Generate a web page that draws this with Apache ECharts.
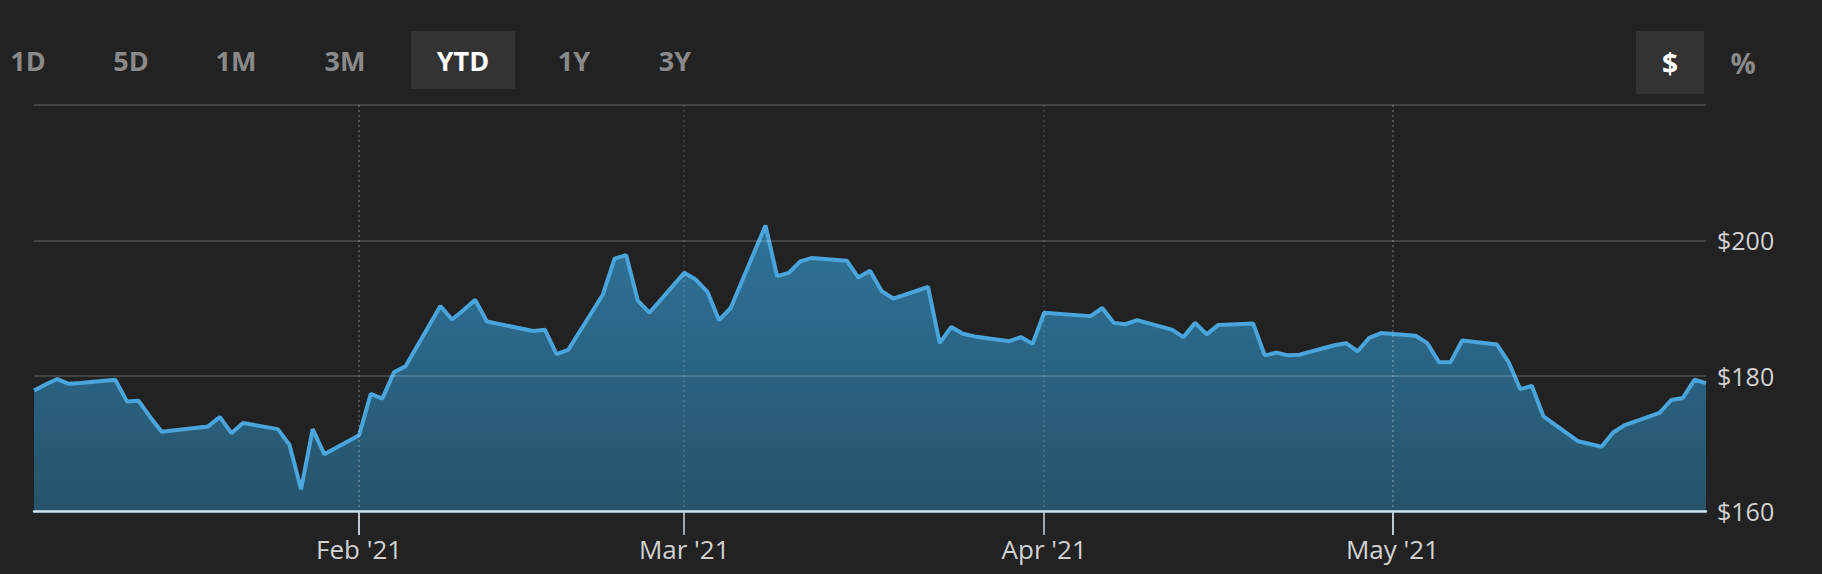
<!DOCTYPE html>
<html>
<head>
<meta charset="utf-8">
<script src="https://cdn.jsdelivr.net/npm/echarts@6/dist/echarts.min.js"></script>
<style>
  html, body { margin: 0; padding: 0; background: #222222; }
  #chart { width: 1822px; height: 574px; }
</style>
</head>
<body>
<div id="chart"></div>
<script>
// ---- data ----
const dates = [
  '2021-01-04','2021-01-05','2021-01-06','2021-01-07','2021-01-08',
  '2021-01-11','2021-01-12','2021-01-13','2021-01-14','2021-01-15',
  '2021-01-19','2021-01-20','2021-01-21','2021-01-22',
  '2021-01-25','2021-01-26','2021-01-27','2021-01-28','2021-01-29',
  '2021-02-01','2021-02-02','2021-02-03','2021-02-04','2021-02-05',
  '2021-02-08','2021-02-09','2021-02-10','2021-02-11','2021-02-12',
  '2021-02-16','2021-02-17','2021-02-18','2021-02-19',
  '2021-02-22','2021-02-23','2021-02-24','2021-02-25','2021-02-26',
  '2021-03-01','2021-03-02','2021-03-03','2021-03-04','2021-03-05',
  '2021-03-08','2021-03-09','2021-03-10','2021-03-11','2021-03-12',
  '2021-03-15','2021-03-16','2021-03-17','2021-03-18','2021-03-19',
  '2021-03-22','2021-03-23','2021-03-24','2021-03-25','2021-03-26',
  '2021-03-29','2021-03-30','2021-03-31','2021-04-01',
  '2021-04-05','2021-04-06','2021-04-07','2021-04-08','2021-04-09',
  '2021-04-12','2021-04-13','2021-04-14','2021-04-15','2021-04-16',
  '2021-04-19','2021-04-20','2021-04-21','2021-04-22','2021-04-23',
  '2021-04-26','2021-04-27','2021-04-28','2021-04-29','2021-04-30',
  '2021-05-03','2021-05-04','2021-05-05','2021-05-06','2021-05-07',
  '2021-05-10','2021-05-11','2021-05-12','2021-05-13','2021-05-14',
  '2021-05-17','2021-05-18','2021-05-19','2021-05-20','2021-05-21',
  '2021-05-24','2021-05-25','2021-05-26','2021-05-27','2021-05-28'
];
const prices = [
  177.8, 178.7, 179.5, 178.8, 178.9,
  179.4, 176.2, 176.3, 173.9, 171.7,
  172.5, 173.9, 171.5, 173.0,
  172.1, 169.8, 163.2, 172.1, 168.4,
  171.2, 177.3, 176.6, 180.5, 181.4,
  190.3, 188.3, 189.7, 191.2, 188.0,
  186.6, 186.8, 183.2, 183.8,
  192.0, 197.3, 197.8, 191.1, 189.3,
  195.2, 194.2, 192.4, 188.2, 190.0,
  202.2, 194.7, 195.2, 196.9, 197.4,
  197.0, 194.5, 195.5, 192.5, 191.4,
  193.1, 184.8, 187.2, 186.2, 185.8,
  185.1, 185.7, 184.7, 189.3,
  188.8, 190.0, 187.8, 187.6, 188.2,
  186.8, 185.7, 187.8, 186.1, 187.5,
  187.7, 183.0, 183.4, 183.0, 183.1,
  184.5, 184.8, 183.6, 185.6, 186.3,
  185.9, 184.8, 182.0, 182.0, 185.2,
  184.6, 182.0, 178.0, 178.5, 174.0,
  170.3, 169.9, 169.5, 171.6, 172.7,
  174.5, 176.4, 176.7, 179.4, 178.9
];
const xRange = ['2021-01-04', '2021-05-28'];
const monthTicks = ['2021-02-01', '2021-03-01', '2021-04-01', '2021-05-01'];
const monthLabels = ["Feb '21", "Mar '21", "Apr '21", "May '21"];
const yTicks = [160, 180, 200, 220];
const yLabels = ['$160', '$180', '$200', ''];
const rangeButtons = ['1D', '5D', '1M', '3M', 'YTD', '1Y', '3Y'];
const activeRange = 'YTD';
const unitButtons = ['$', '%'];
const activeUnit = '$';

// ---- chart ----
const chart = echarts.init(document.getElementById('chart'), null, { renderer: 'svg' });
const parseT = s => echarts.time.parse(s).getTime();
const tickTimes = monthTicks.map(parseT);
const monthLabelFor = v => {
  const t = typeof v === 'number' ? v : parseT(v);
  const i = tickTimes.indexOf(t);
  return i >= 0 ? monthLabels[i] : '';
};
const DAY = 86400000;

const rangeX = [28, 131, 236, 345, 463, 574, 675];
const graphics = [];
rangeButtons.forEach((b, i) => {
  if (b === activeRange) {
    graphics.push({ type: 'rect', shape: { x: rangeX[i] - 52, y: 31, width: 104, height: 58 }, style: { fill: '#333333' } });
  }
  graphics.push({
    type: 'text', x: rangeX[i], y: 60,
    style: {
      text: b, fill: b === activeRange ? '#ffffff' : '#8a8a8a',
      font: 'bold 27px "Open Sans"', align: 'center', verticalAlign: 'middle'
    }
  });
});
const unitX = [1670, 1743];
unitButtons.forEach((b, i) => {
  if (b === activeUnit) {
    graphics.push({ type: 'rect', shape: { x: unitX[i] - 34, y: 31, width: 68, height: 63 }, style: { fill: '#333333' } });
  }
  graphics.push({
    type: 'text', x: unitX[i], y: 63,
    style: {
      text: b, fill: b === activeUnit ? '#ffffff' : '#8a8a8a',
      font: 'bold 28px "Open Sans"', align: 'center', verticalAlign: 'middle'
    }
  });
});

chart.setOption({
  backgroundColor: '#222222',
  animation: false,
  graphic: graphics,
  grid: { left: 34, right: 116, top: 105, bottom: 63 },
  xAxis: {
    type: 'time',
    z: 3,
    min: xRange[0],
    max: xRange[1],
    minInterval: 28 * DAY,
    maxInterval: 31 * DAY,
    axisLine: { show: true, onZero: false, lineStyle: { color: '#cde2f1', width: 2.5 } },
    axisTick: { show: true, length: 24, customValues: tickTimes, lineStyle: { color: '#c9d6df', width: 1.5 } },
    axisLabel: {
      color: '#d2d2d2', fontSize: 26, fontFamily: 'Open Sans', margin: 25,
      showMinLabel: false, showMaxLabel: false,
      formatter: v => monthLabelFor(v)
    },
    splitLine: { show: true, lineStyle: { color: 'rgba(255,255,255,0.16)', type: [2, 3], width: 1.5 } }
  },
  yAxis: {
    type: 'value',
    z: 3,
    position: 'right',
    min: yTicks[0],
    max: yTicks[yTicks.length - 1],
    interval: 20,
    axisLine: { show: false },
    axisTick: { show: false },
    axisLabel: {
      color: '#d2d2d2', fontSize: 25, fontFamily: 'Open Sans', margin: 11,
      formatter: v => { const i = yTicks.indexOf(v); return i >= 0 ? yLabels[i] : ''; }
    },
    splitLine: { show: true, lineStyle: { color: 'rgba(255,255,255,0.15)', width: 2 } }
  },
  series: [{
    type: 'line',
    z: 2,
    data: dates.map((d, i) => [d, prices[i]]),
    showSymbol: false,
    lineStyle: { color: '#4aa5dc', width: 4 },
    areaStyle: {
      opacity: 1,
      color: {
        type: 'linear', x: 0, y: 0, x2: 0, y2: 1,
        colorStops: [
          { offset: 0, color: '#2e7399' },
          { offset: 1, color: '#27536b' }
        ]
      }
    }
  }]
});
</script>
</body>
</html>
